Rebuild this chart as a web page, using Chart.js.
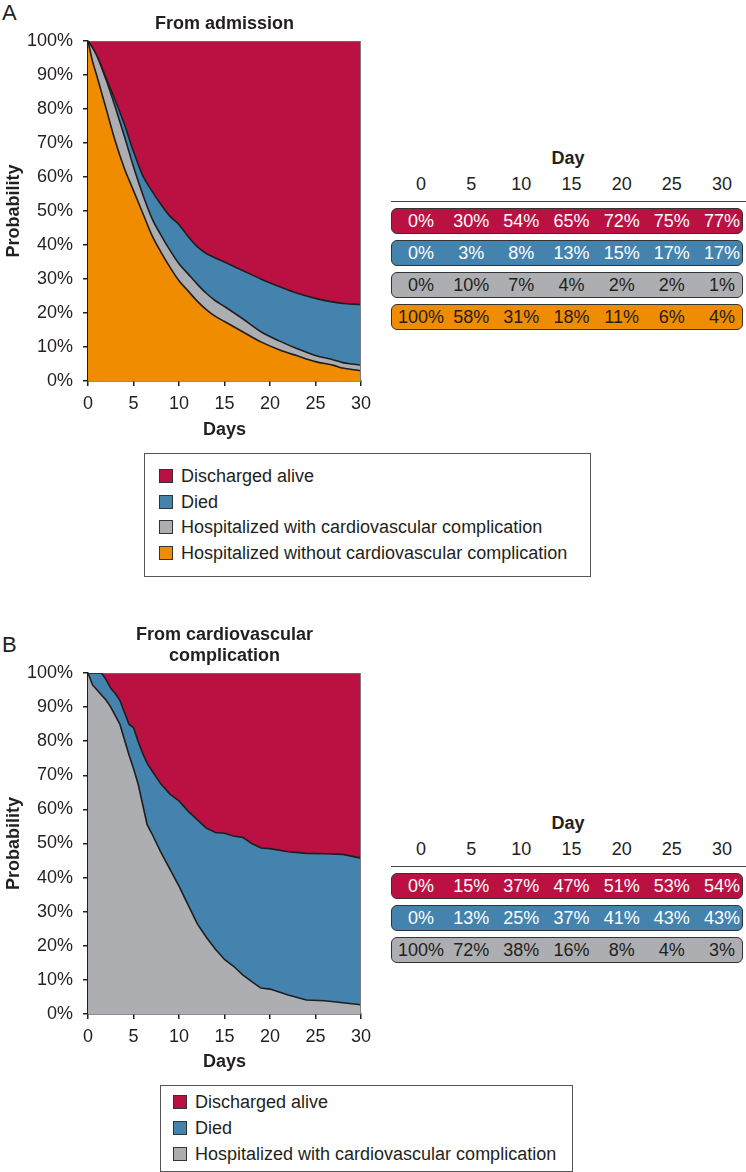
<!DOCTYPE html>
<html>
<head>
<meta charset="utf-8">
<script src="https://cdn.jsdelivr.net/npm/chart.js@4.4.1/dist/chart.umd.min.js"></script>
<style>
  body { margin: 0; width: 746px; height: 1172px; position: relative; background: #fff;
         font-family: "Liberation Sans", Arial, sans-serif; color: #231f20; overflow: hidden; }
  canvas { position: absolute; left: 0; }
  .letter { position: absolute; left: 2px; font-size: 22px; line-height: 26px; }
  .txt { position: absolute; font-size: 18px; line-height: 22px; white-space: nowrap; }
  .cell { position: absolute; width: 50px; margin-left: -25px; text-align: center; font-size: 18px; line-height: 22px; }
  .bold { font-weight: bold; }
  .row { position: absolute; left: 391px; width: 352px; height: 26px; border: 1px solid #333;
         border-radius: 6px; box-sizing: border-box; }
  .rule { position: absolute; left: 391px; width: 355px; border-top: 1.5px solid #444; }
  .legend { position: absolute; border: 1.5px solid #555; box-sizing: border-box; background: #fff; }
  .legend .item { position: absolute; font-size: 18px; line-height: 22px; white-space: nowrap; }
  .legend .sw { display: inline-block; width: 14px; height: 14px; border: 1px solid #333;
                box-sizing: border-box; vertical-align: -1px; margin-right: 8px; }
</style>
</head>
<body>
<div class="letter" style="top:0px">A</div>
<div class="letter" style="top:632px">B</div>
<canvas id="chartA" width="380" height="448" style="top:0px"></canvas>
<canvas id="chartB" width="380" height="470" style="top:610px"></canvas>

<script>
// Colours of the four states
const RED = '#bb1142';
const BLUE = '#4583af';
const GRAY = '#acaeb1';
const ORANGE = '#f08c00';
const INK = '#231f20';
const FONT = '"Liberation Sans", Arial, sans-serif';

// Panel A: from admission (band heights, % of patients)
const daysA = [0, 0.5, 1, 2, 3, 4, 5, 6, 7, 8, 9, 10, 11, 12, 13, 14, 15, 17, 19, 21, 23, 25, 27, 28, 29, 30];
const withoutCvA = [100, 94, 89.5, 80, 70.5, 62.5, 56, 49.5, 43, 38, 33.5, 29.5, 26.5, 23.5, 21, 19, 17.5, 14.5, 11.5, 9.2, 7.4, 5.7, 4.6, 3.8, 3.4, 3.0];
const withCvA = [0, 4, 6, 8.5, 10, 9.5, 7, 5.5, 5, 5, 5, 5, 5, 5, 4.8, 4.6, 4.4, 3.8, 3.0, 2.6, 2.1, 1.8, 1.6, 1.6, 1.6, 1.7];
const diedA = [0, 0, 0, 0.5, 2, 3.5, 4.5, 5.5, 8, 9, 10, 11.5, 11, 11, 11.7, 12.6, 13.1, 14.2, 15.5, 16, 16.3, 16.8, 17, 17.4, 17.6, 17.8];
const dischargedA = [0, 2, 4.5, 11, 17.5, 24.5, 32.5, 39.5, 44, 48, 51.5, 54, 57.5, 60.5, 62.5, 63.8, 65, 67.5, 70, 72.2, 74.2, 75.7, 76.8, 77.2, 77.4, 77.5];

// Panel B: from cardiovascular complication
const daysB = [0, 0.5, 1, 1.5, 2, 2.5, 3, 3.5, 4, 4.5, 5, 5.5, 6, 6.5, 7, 8, 9, 10, 11, 12, 13, 14, 15, 16, 17, 18, 19, 20, 22, 24, 26, 28, 30];
const withCvB = [100, 96.5, 95, 93.5, 92, 90, 87.5, 85, 80.5, 76, 72, 67.5, 61.5, 55.5, 53, 47.5, 42.5, 37.5, 32, 26.5, 22.5, 19, 16, 14, 11.5, 9.5, 7.6, 7.3, 5.6, 4.1, 3.9, 3.3, 2.7];
const diedB = [0, 3.5, 5, 6.5, 6, 5.5, 6.5, 7, 8, 9, 12, 12.5, 15, 18, 18.5, 20, 22, 25, 27.5, 30.5, 32, 34.2, 37, 38.2, 40.3, 40.5, 41.1, 41.2, 42, 43, 43.1, 43.5, 43];
const dischargedB = [0, 0, 0, 0, 2, 4.5, 6, 8, 11.5, 15, 16, 20, 23.5, 26.5, 28.5, 32.5, 35.5, 37.5, 40.5, 43, 45.5, 46.8, 47, 47.8, 48.2, 50, 51.3, 51.5, 52.4, 52.9, 53, 53.2, 54.3];

// Tables
const tableDays = [0, 5, 10, 15, 20, 25, 30];
const tblDischargedA = [0, 30, 54, 65, 72, 75, 77];
const tblDiedA = [0, 3, 8, 13, 15, 17, 17];
const tblWithCvA = [0, 10, 7, 4, 2, 2, 1];
const tblWithoutCvA = [100, 58, 31, 18, 11, 6, 4];
const tblDischargedB = [0, 15, 37, 47, 51, 53, 54];
const tblDiedB = [0, 13, 25, 37, 41, 43, 43];
const tblWithCvB = [100, 72, 38, 16, 8, 4, 3];

const LBL_DIS = 'Discharged alive';
const LBL_DIED = 'Died';
const LBL_WITH = 'Hospitalized with cardiovascular complication';
const LBL_WITHOUT = 'Hospitalized without cardiovascular complication';

function points(days, vals) {
    return days.map((d, i) => ({ x: d, y: vals[i] }));
}

// right edge of the plot frame
const frameEdge = {
    id: 'frameEdge',
    afterDatasetsDraw(chart) {
        const a = chart.chartArea;
        const ctx = chart.ctx;
        ctx.save();
        ctx.strokeStyle = '#7d7f82';
        ctx.lineWidth = 1;
        ctx.beginPath();
        ctx.moveTo(a.right - 0.5, a.top);
        ctx.lineTo(a.right - 0.5, a.bottom);
        ctx.stroke();
        ctx.restore();
    }
};

function makeChart(id, title, titlePadTop, xHeight, smooth, layers) {
    const datasets = layers.map((l, i) => ({
        label: l.label,
        data: l.data,
        backgroundColor: l.color,
        borderColor: i === layers.length - 1 ? '#8a8c8f' : '#1e1e1e',
        borderWidth: i === layers.length - 1 ? 1.2 : 1.6,
        pointRadius: 0,
        cubicInterpolationMode: smooth ? 'monotone' : 'default',
        tension: 0,
        fill: i === 0 ? 'origin' : '-1'
    }));
    const tickFont = { family: FONT, size: 18 };
    const boldFont = { family: FONT, size: 18, weight: 'bold' };
    return new Chart(document.getElementById(id), {
        type: 'line',
        data: { datasets: datasets },
        plugins: [frameEdge],
        options: {
            responsive: false,
            animation: false,
            layout: { padding: { left: 0, right: 19, top: 0, bottom: 0 } },
            plugins: {
                legend: { display: false },
                tooltip: { enabled: false },
                title: {
                    display: true,
                    text: title,
                    fullSize: false,
                    color: INK,
                    font: { family: FONT, size: 18, weight: 'bold', lineHeight: '21px' },
                    padding: { top: titlePadTop, bottom: 6.5 }
                }
            },
            scales: {
                x: {
                    type: 'linear',
                    min: 0,
                    max: 30,
                    z: 1,
                    ticks: { stepSize: 5, font: tickFont, color: INK, padding: 7, maxRotation: 0 },
                    grid: { drawOnChartArea: false, tickLength: 5, color: INK, lineWidth: 1.5 },
                    border: { color: INK, width: 1.5 },
                    title: { display: true, text: 'Days', color: INK, font: boldFont, padding: { top: 0, bottom: 7 } },
                    afterFit: (s) => { s.height = xHeight; }
                },
                y: {
                    stacked: true,
                    min: 0,
                    max: 100,
                    z: 1,
                    ticks: { stepSize: 10, font: tickFont, color: INK, padding: 10, callback: (v) => v + '%' },
                    grid: { drawOnChartArea: false, tickLength: 5, color: INK, lineWidth: 1.5 },
                    border: { color: INK, width: 1.5 },
                    title: { display: true, text: 'Probability', color: INK, font: boldFont, padding: { top: 3, bottom: 0 } },
                    afterFit: (s) => { s.width = 88; }
                }
            }
        }
    });
}

makeChart('chartA', 'From admission', 13.5, 67, true, [
    { label: LBL_WITHOUT, data: points(daysA, withoutCvA), color: ORANGE },
    { label: LBL_WITH, data: points(daysA, withCvA), color: GRAY },
    { label: LBL_DIED, data: points(daysA, diedA), color: BLUE },
    { label: LBL_DIS, data: points(daysA, dischargedA), color: RED }
]);

makeChart('chartB', ['From cardiovascular', 'complication'], 14.5, 66, false, [
    { label: LBL_WITH, data: points(daysB, withCvB), color: GRAY },
    { label: LBL_DIED, data: points(daysB, diedB), color: BLUE },
    { label: LBL_DIS, data: points(daysB, dischargedB), color: RED }
]);

// Day tables ------------------------------------------------------------
function addDiv(cls, style, text) {
    const d = document.createElement('div');
    d.className = cls;
    Object.assign(d.style, style);
    if (text !== undefined) d.textContent = text;
    document.body.appendChild(d);
    return d;
}

function buildTable(dayY, rows) {
    const colX = tableDays.map((d, i) => 421 + i * 50.17);
    addDiv('txt bold', { left: '548px', top: (dayY - 11) + 'px', width: '40px', textAlign: 'center' }, 'Day');
    tableDays.forEach((d, i) => {
        addDiv('cell', { left: colX[i] + 'px', top: (dayY + 15) + 'px' }, String(d));
    });
    addDiv('rule', { top: (dayY + 43) + 'px' });
    rows.forEach((r, k) => {
        const top = dayY + 49.5 + k * 32;
        addDiv('row', { top: top + 'px', background: r.color });
        r.vals.forEach((v, i) => {
            addDiv('cell', { left: colX[i] + 'px', top: (top + 2) + 'px', color: r.text }, v + '%');
        });
    });
}

buildTable(158, [
    { vals: tblDischargedA, color: RED, text: '#fff' },
    { vals: tblDiedA, color: BLUE, text: '#fff' },
    { vals: tblWithCvA, color: GRAY, text: INK },
    { vals: tblWithoutCvA, color: ORANGE, text: INK }
]);

buildTable(823, [
    { vals: tblDischargedB, color: RED, text: '#fff' },
    { vals: tblDiedB, color: BLUE, text: '#fff' },
    { vals: tblWithCvB, color: GRAY, text: INK }
]);

// Legends ---------------------------------------------------------------
function buildLegend(box, swLeft, firstY, step, items) {
    const lg = addDiv('legend', { left: box[0] + 'px', top: box[1] + 'px', width: box[2] + 'px', height: box[3] + 'px' });
    items.forEach((it, i) => {
        const row = document.createElement('div');
        row.className = 'item';
        row.style.left = swLeft + 'px';
        row.style.top = (firstY + i * step - 11) + 'px';
        const sw = document.createElement('span');
        sw.className = 'sw';
        sw.style.background = it.color;
        row.appendChild(sw);
        row.appendChild(document.createTextNode(it.label));
        lg.appendChild(row);
    });
}

buildLegend([144, 453, 447, 124], 14, 22, 25.7, [
    { label: LBL_DIS, color: RED },
    { label: LBL_DIED, color: BLUE },
    { label: LBL_WITH, color: GRAY },
    { label: LBL_WITHOUT, color: ORANGE }
]);

buildLegend([160, 1085, 413, 87], 12, 16, 26, [
    { label: LBL_DIS, color: RED },
    { label: LBL_DIED, color: BLUE },
    { label: LBL_WITH, color: GRAY }
]);
</script>
</body>
</html>
